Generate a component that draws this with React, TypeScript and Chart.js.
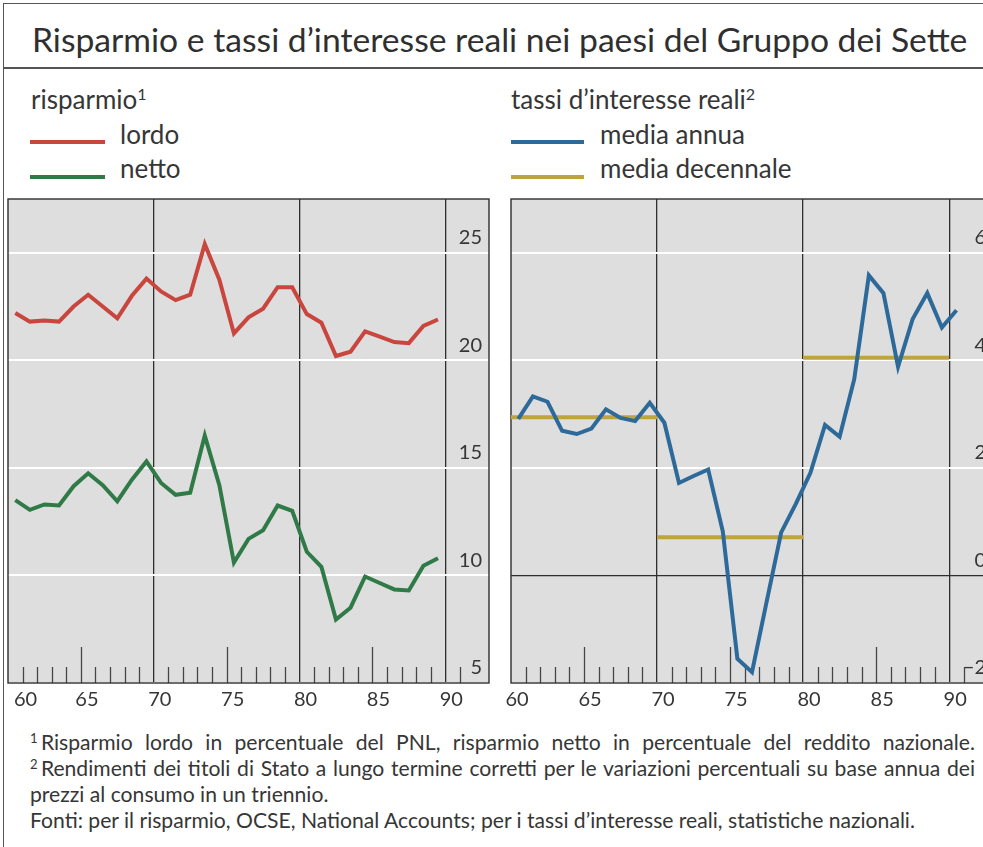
import React, { useEffect, useMemo, useRef } from 'react';
import { Chart, registerables } from 'chart.js';

Chart.register(...registerables);

// ---------------- data ----------------
const savingYears = [1960, 1961, 1962, 1963, 1964, 1965, 1966, 1967, 1968, 1969, 1970, 1971, 1972, 1973, 1974, 1975, 1976, 1977, 1978, 1979, 1980, 1981, 1982, 1983, 1984, 1985, 1986, 1987, 1988, 1989];
const lordo = [22.2, 21.8, 21.85, 21.8, 22.5, 23.05, 22.5, 21.95, 23.0, 23.8, 23.2, 22.8, 23.05, 25.4, 23.75, 21.25, 22.0, 22.4, 23.4, 23.4, 22.15, 21.75, 20.2, 20.4, 21.35, 21.1, 20.85, 20.8, 21.6, 21.9];
const netto = [13.5, 13.05, 13.3, 13.25, 14.15, 14.75, 14.2, 13.45, 14.45, 15.3, 14.3, 13.75, 13.85, 16.5, 14.2, 10.6, 11.7, 12.1, 13.25, 13.0, 11.1, 10.4, 7.95, 8.5, 9.95, 9.65, 9.35, 9.3, 10.45, 10.8];

const rateYears = [1960, 1961, 1962, 1963, 1964, 1965, 1966, 1967, 1968, 1969, 1970, 1971, 1972, 1973, 1974, 1975, 1976, 1977, 1978, 1979, 1980, 1981, 1982, 1983, 1984, 1985, 1986, 1987, 1988, 1989, 1990];
const mediaAnnua = [2.91, 3.33, 3.23, 2.69, 2.63, 2.73, 3.09, 2.93, 2.87, 3.21, 2.84, 1.72, 1.85, 1.97, 0.82, -1.55, -1.8, -0.49, 0.8, 1.33, 1.91, 2.8, 2.58, 3.65, 5.58, 5.25, 3.88, 4.77, 5.25, 4.61, 4.93];

const decadeFrom = [1960, 1970, 1980];
const decadeTo = [1970, 1980, 1990];
const mediaDecennale = [2.94, 0.71, 4.05];

const xTickValues = [60, 65, 70, 75, 80, 85, 90];
const decadeLines = [70, 80, 90];
const savingTicks = [5, 10, 15, 20, 25];
const rateTicks = [-2, 0, 2, 4, 6];

const TITLE = 'Risparmio e tassi d’interesse reali nei paesi del Gruppo dei Sette';
const NOTE1 = 'Risparmio lordo in percentuale del PNL, risparmio netto in percentuale del reddito nazionale.';
const NOTE2 = 'Rendimenti dei titoli di Stato a lungo termine corretti per le variazioni percentuali su base annua dei';
const NOTE3 = 'prezzi al consumo in un triennio.';
const NOTE4 = 'Fonti: per il risparmio, OCSE, National Accounts; per i tassi d’interesse reali, statistiche nazionali.';

// ---------------- style ----------------
const FONT = "Lato, 'Open Sans', sans-serif";
const TEXT = '#363636';
const RED = '#c9463e';
const GREEN = '#2f7a47';
const BLUE = '#2d6a9a';
const GOLD = '#bfa43e';
const PANEL_BG = '#dedede';
const DARK = '#2e2e2e';

const backgroundPlugin = {
  id: 'panelBg',
  beforeDraw(chart: any) {
    const { ctx, chartArea: a } = chart;
    ctx.save();
    ctx.fillStyle = PANEL_BG;
    ctx.fillRect(a.left, a.top, a.right - a.left, a.bottom - a.top);
    ctx.restore();
  },
};

const decorPlugin = {
  id: 'decor',
  beforeDatasetsDraw(chart: any) {
    const { ctx, chartArea: a, scales } = chart;
    const xs = scales.x;
    ctx.save();
    ctx.strokeStyle = '#454545';
    ctx.lineWidth = 1.3;
    for (let yr = 61; yr <= 91; yr++) {
      if (yr % 10 === 0) continue;
      const x = Math.round(xs.getPixelForValue(yr)) + 0.5;
      const len = yr % 5 === 0 ? 36 : 16;
      ctx.beginPath();
      ctx.moveTo(x, a.bottom);
      ctx.lineTo(x, a.bottom - len);
      ctx.stroke();
    }
    ctx.strokeStyle = DARK;
    ctx.lineWidth = 1.4;
    ctx.strokeRect(a.left, a.top, a.right - a.left, a.bottom - a.top);
    ctx.restore();
  },
};

function makeConfig(datasets: any[], yMin: number, yMax: number, yTicks: number[], innerFirst: boolean, padLeft: number): any {
  const xt = innerFirst ? [...xTickValues, 93] : xTickValues;
  return {
    type: 'line',
    data: { datasets },
    options: {
      animation: false,
      responsive: false,
      maintainAspectRatio: false,
      events: [],
      layout: { padding: { top: 1, left: padLeft, right: 1, bottom: 0 } },
      plugins: { legend: { display: false }, tooltip: { enabled: false }, title: { display: false } },
      elements: { point: { radius: 0 }, line: { tension: 0, borderJoinStyle: 'miter', borderCapStyle: 'butt' } },
      scales: {
        x: {
          type: 'linear',
          min: 60,
          max: 93,
          afterBuildTicks: (s: any) => {
            s.ticks = xt.map((v) => ({ value: v }));
          },
          afterFit: (s: any) => {
            s.height = 32;
            s.paddingLeft = 0;
            s.paddingRight = 0;
            s.paddingTop = 0;
            s.paddingBottom = 0;
          },
          grid: {
            drawTicks: false,
            color: (c: any) => (c.tick && decadeLines.includes(c.tick.value) ? DARK : 'rgba(0,0,0,0)'),
            lineWidth: 1.3,
          },
          border: { display: false },
          ticks: {
            autoSkip: false,
            maxRotation: 0,
            minRotation: 0,
            align: innerFirst ? 'inner' : 'center',
            padding: 5,
            labelOffset: 6,
            font: { family: FONT, size: 20 },
            color: TEXT,
            callback: (v: number) => (xTickValues.includes(v) ? String(v) : ''),
          },
        },
        y: {
          position: 'right',
          min: yMin,
          max: yMax,
          afterBuildTicks: (s: any) => {
            s.ticks = yTicks.map((v) => ({ value: v }));
          },
          afterFit: (s: any) => {
            s.width = 0;
            s.paddingTop = 0;
            s.paddingBottom = 0;
            s.paddingLeft = 0;
            s.paddingRight = 0;
          },
          grid: {
            drawTicks: false,
            color: (c: any) => (c.tick && c.tick.value === 0 ? DARK : '#ffffff'),
            lineWidth: (c: any) => (c.tick && c.tick.value === 0 ? 1.3 : 2),
          },
          border: { display: false },
          ticks: {
            mirror: true,
            padding: -7,
            labelOffset: -15,
            font: { family: FONT, size: 20 },
            color: TEXT,
            callback: (v: number) => (v < 0 ? '\u2212' + Math.abs(v) : String(v)),
          },
        },
      },
    },
    plugins: [backgroundPlugin, decorPlugin],
  };
}

function fitSize(text: string, target: number, fallback: number) {
  try {
    const c = document.createElement('canvas').getContext('2d');
    if (!c) return fallback;
    c.font = `100px ${FONT}`;
    const w = c.measureText(text).width;
    return w > 0 ? (100 * target) / w : fallback;
  } catch (e) {
    return fallback;
  }
}

function Txt(props: { x: number; base: number; size: number; children: any; style?: any }) {
  const { x, base, size, children, style } = props;
  return (
    <div
      style={{
        position: 'absolute',
        left: x,
        top: base - 0.887 * size,
        fontSize: size,
        lineHeight: `${size}px`,
        fontFamily: FONT,
        color: TEXT,
        whiteSpace: 'nowrap',
        ...style,
      }}
    >
      {children}
    </div>
  );
}

const Sup = ({ n }: { n: string }) => (
  <span style={{ fontSize: '0.62em', position: 'relative', top: '-0.55em', marginRight: '0.25em' }}>{n}</span>
);

export default function App() {
  const leftRef = useRef<HTMLCanvasElement>(null);
  const rightRef = useRef<HTMLCanvasElement>(null);

  const titleSize = useMemo(() => fitSize(TITLE, 936, 30), []);
  const noteSize = useMemo(
    () => Math.min(22, fitSize(NOTE4, 905, 20), fitSize(NOTE2, 915, 20)),
    []
  );

  useEffect(() => {
    const left = new Chart(
      leftRef.current as HTMLCanvasElement,
      makeConfig(
        [
          { label: 'lordo', data: savingYears.map((y, i) => ({ x: y - 1900 + 0.5, y: lordo[i] })), borderColor: RED, borderWidth: 4 },
          { label: 'netto', data: savingYears.map((y, i) => ({ x: y - 1900 + 0.5, y: netto[i] })), borderColor: GREEN, borderWidth: 4 },
        ],
        5,
        27.5,
        savingTicks,
        true,
        8
      )
    );
    const goldData: any[] = [];
    decadeFrom.forEach((f, i) => {
      goldData.push({ x: f - 1900, y: mediaDecennale[i] });
      goldData.push({ x: decadeTo[i] - 1900, y: mediaDecennale[i] });
      goldData.push({ x: decadeTo[i] - 1900, y: null });
    });
    const right = new Chart(
      rightRef.current as HTMLCanvasElement,
      makeConfig(
        [
          { label: 'media annua', data: rateYears.map((y, i) => ({ x: y - 1900 + 0.5, y: mediaAnnua[i] })), borderColor: BLUE, borderWidth: 4 },
          { label: 'media decennale', data: goldData, borderColor: GOLD, borderWidth: 4, spanGaps: false },
        ],
        -2,
        7,
        rateTicks,
        false,
        11
      )
    );
    return () => {
      left.destroy();
      right.destroy();
    };
  }, []);

  const legendSize = 26;
  const justified = { width: 945, whiteSpace: 'normal', textAlign: 'justify', textAlignLast: 'justify' };

  return (
    <div style={{ position: 'fixed', left: 0, top: 0, width: 983, height: 847, overflow: 'hidden', background: '#fff' }}>
      {/* outer frame */}
      <div style={{ position: 'absolute', left: 3, top: 3, width: 1000, height: 900, borderLeft: '1.5px solid #555', borderTop: '1.5px solid #555' }} />
      <div style={{ position: 'absolute', left: 3, top: 67, width: 1000, height: 1.5, background: '#555' }} />

      <Txt x={32} base={53} size={titleSize} style={{ color: '#2f2f2f' }}>
        {TITLE}
      </Txt>

      {/* legends */}
      <Txt x={31} base={109} size={legendSize}>
        risparmio<Sup n="1" />
      </Txt>
      <div style={{ position: 'absolute', left: 30, top: 140, width: 75, height: 4, background: RED }} />
      <Txt x={120} base={144} size={legendSize}>lordo</Txt>
      <div style={{ position: 'absolute', left: 30, top: 175, width: 75, height: 4, background: GREEN }} />
      <Txt x={120} base={178} size={legendSize}>netto</Txt>

      <Txt x={511} base={109} size={legendSize}>
        tassi d’interesse reali<Sup n="2" />
      </Txt>
      <div style={{ position: 'absolute', left: 511, top: 140, width: 73, height: 4, background: BLUE }} />
      <Txt x={600} base={144} size={legendSize}>media annua</Txt>
      <div style={{ position: 'absolute', left: 511, top: 175, width: 73, height: 4, background: GOLD }} />
      <Txt x={600} base={178} size={legendSize}>media decennale</Txt>

      {/* charts */}
      <canvas ref={leftRef} width={490} height={517} style={{ position: 'absolute', left: 0, top: 198, width: 490, height: 517 }} />
      <canvas ref={rightRef} width={494} height={517} style={{ position: 'absolute', left: 500, top: 198, width: 494, height: 517 }} />

      {/* footnotes */}
      <Txt x={30} base={751} size={noteSize} style={justified}>
        <Sup n="1" />{NOTE1}
      </Txt>
      <Txt x={30} base={777} size={noteSize} style={justified}>
        <Sup n="2" />{NOTE2}
      </Txt>
      <Txt x={30} base={803} size={noteSize}>
        {NOTE3}
      </Txt>
      <Txt x={30} base={829} size={noteSize}>
        {NOTE4}
      </Txt>
    </div>
  );
}
